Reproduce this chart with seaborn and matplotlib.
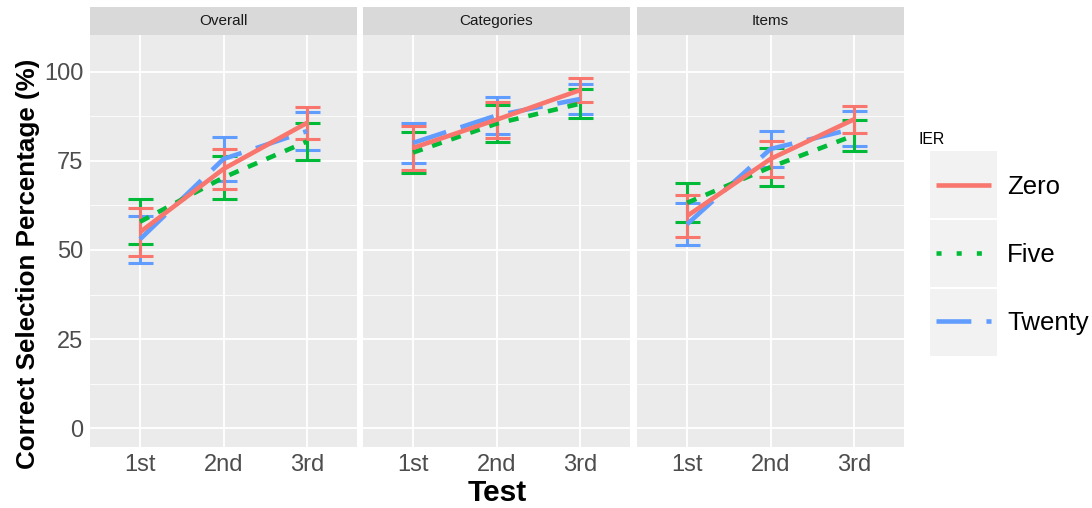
import matplotlib
matplotlib.use("Agg")
import matplotlib.pyplot as plt
from matplotlib.patches import Rectangle
from matplotlib.lines import Line2D
import seaborn as sns
import pandas as pd

tests = ["1st", "2nd", "3rd"]
panels = ["Overall", "Categories", "Items"]
ier_levels = ["Zero", "Five", "Twenty"]

overall_zero = [55.0, 72.7, 85.6]
overall_five = [57.9, 70.3, 80.4]
overall_twenty = [53.0, 75.5, 83.3]
overall_zero_err = [6.8, 5.7, 4.5]
overall_five_err = [6.3, 6.1, 5.1]
overall_twenty_err = [6.6, 6.1, 5.4]

categories_zero = [78.6, 86.5, 94.8]
categories_five = [77.3, 85.4, 91.0]
categories_twenty = [80.0, 87.7, 92.3]
categories_zero_err = [6.1, 5.0, 3.3]
categories_five_err = [5.8, 5.2, 4.0]
categories_twenty_err = [5.7, 5.1, 4.1]

items_zero = [59.5, 75.5, 86.6]
items_five = [63.2, 73.2, 82.1]
items_twenty = [57.2, 78.3, 84.0]
items_zero_err = [5.9, 5.1, 3.8]
items_five_err = [5.5, 5.4, 4.4]
items_twenty_err = [5.9, 5.0, 5.0]

means = {
    "Overall": [overall_zero, overall_five, overall_twenty],
    "Categories": [categories_zero, categories_five, categories_twenty],
    "Items": [items_zero, items_five, items_twenty],
}
errs = {
    "Overall": [overall_zero_err, overall_five_err, overall_twenty_err],
    "Categories": [categories_zero_err, categories_five_err, categories_twenty_err],
    "Items": [items_zero_err, items_five_err, items_twenty_err],
}

rows = []
for p in panels:
    for gi, g in enumerate(ier_levels):
        for ti, t in enumerate(tests):
            rows.append({"panel": p, "IER": g, "Test": t,
                         "pct": means[p][gi][ti], "err": errs[p][gi][ti]})
df = pd.DataFrame(rows)

colors = {"Zero": "#F8766D", "Five": "#00BA38", "Twenty": "#619CFF"}
panel_dashes = {"Zero": None, "Five": (2.2, 2.2), "Twenty": (7.6, 3.3)}
legend_dashes = {"Zero": None, "Five": (1.1, 3.3), "Twenty": (7.6, 3.3)}

sns.set_theme(style="darkgrid")
plt.rcParams["font.family"] = ["Liberation Sans", "DejaVu Sans"]

W, H = 1092, 508
fig = plt.figure(figsize=(W / 100, H / 100), dpi=100)

lefts = [90, 363, 637]
pw = 267
top_px, bot_px = 35, 447
LW = 3.3

for i, p in enumerate(panels):
    ax = fig.add_axes([lefts[i] / W, 1 - bot_px / H, pw / W, (bot_px - top_px) / H])
    ax.set_facecolor("#EBEBEB")
    sub = df[df["panel"] == p]
    order_draw = ["Twenty", "Five", "Zero"]
    for z, g in enumerate(order_draw):
        d = sub[sub["IER"] == g]
        ax.errorbar(d["Test"], d["pct"], yerr=d["err"], fmt="none",
                    ecolor=colors[g], elinewidth=2.2, capsize=9, capthick=2.2,
                    zorder=3 + z)
    for z, g in enumerate(order_draw):
        d = sub[sub["IER"] == g]
        sns.lineplot(data=d, x="Test", y="pct", color=colors[g], lw=LW,
                     dashes=panel_dashes[g] if panel_dashes[g] else (None, None),
                     ax=ax, legend=False, zorder=6 + z, sort=False)
    for ln in ax.lines:
        ln.set_solid_capstyle("butt")
        ln.set_dash_capstyle("butt")
    ax.set_xlim(-0.6, 2.6)
    ax.set_ylim(-5.25, 110.25)
    ax.set_yticks([0, 25, 50, 75, 100])
    ax.set_yticks([12.5, 37.5, 62.5, 87.5], minor=True)
    ax.grid(which="major", color="white", lw=1.3)
    ax.grid(which="minor", color="white", lw=0.6)
    ax.set_axisbelow(True)
    for s in ax.spines.values():
        s.set_visible(False)
    ax.tick_params(axis="both", which="major", length=2.75, width=1, color="#333333",
                   labelsize=17, labelcolor="#4D4D4D", pad=2)
    ax.tick_params(axis="both", which="minor", length=0)
    if i > 0:
        ax.tick_params(axis="y", which="major", length=0, labelleft=False)
    ax.set_xlabel("")
    ax.set_ylabel("")
    # strip
    ax.add_patch(Rectangle((0, 1), 1, 28 / (bot_px - top_px), transform=ax.transAxes,
                           facecolor="#D9D9D9", edgecolor="none", clip_on=False))
    ax.text(0.5, 1 + 14 / (bot_px - top_px), p, transform=ax.transAxes,
            ha="center", va="center", fontsize=11, color="#1A1A1A")

fig.text(28 / W, 1 - 264 / H, "Correct Selection Percentage (%)", rotation=90,
         ha="center", va="center", fontsize=18.7, fontweight="bold", color="black")
fig.text(497 / W, 1 - 493 / H, "Test", ha="center", va="center",
         fontsize=21.5, fontweight="bold", color="black")

# legend
fig.text(918 / W, 1 - 139 / H, "IER", ha="left", va="center", fontsize=11.4, color="black")
key_tops = [151, 220, 289]
key_h = 67
for kt in key_tops:
    fig.patches.append(Rectangle((930 / W, 1 - (kt + key_h) / H), 67 / W, key_h / H,
                                 transform=fig.transFigure, facecolor="#F2F2F2",
                                 edgecolor="none", zorder=0))
handles = [Line2D([], [], color=colors[g], lw=LW,
                  dashes=legend_dashes[g] if legend_dashes[g] else (None, None),
                  solid_capstyle="butt", dash_capstyle="butt") for g in ier_levels]
leg = fig.legend(handles, ier_levels, loc="center left",
                 bbox_to_anchor=(936 / W, 1 - 255 / H), frameon=False,
                 fontsize=18.5, handlelength=2.14, handletextpad=0.62,
                 labelspacing=1.72, borderpad=0, borderaxespad=0)
for t in leg.get_texts():
    t.set_color("black")

fig.savefig("out.png", dpi=100, facecolor="white")
